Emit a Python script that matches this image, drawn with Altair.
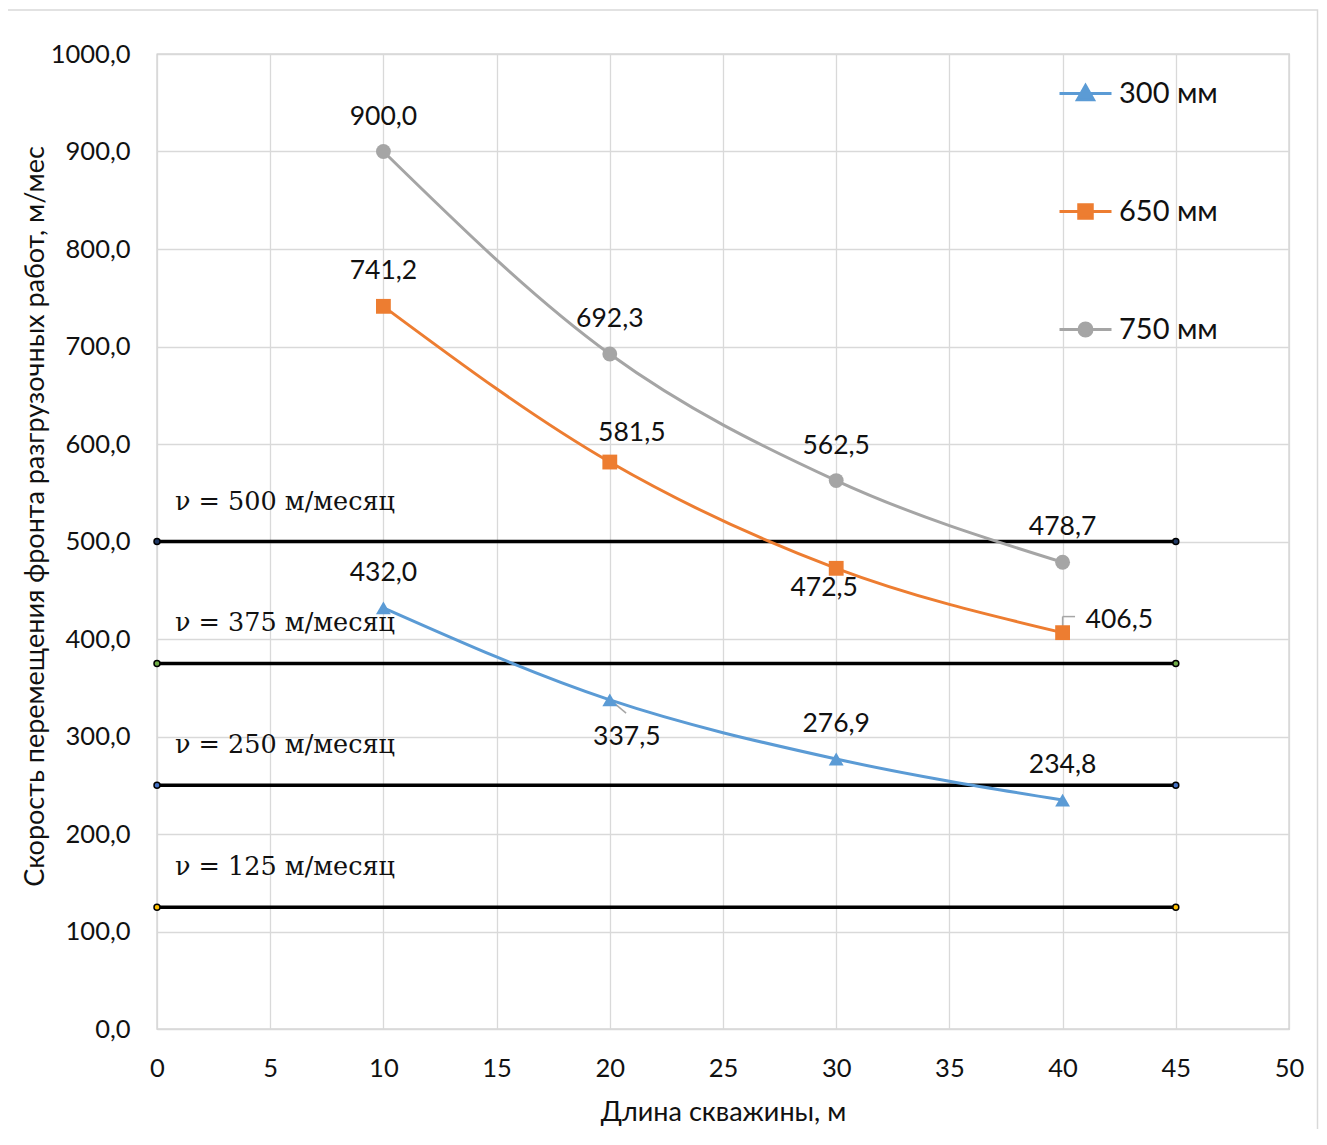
import altair as alt
import pandas as pd

# ---------------- data ----------------
x_vals = [10, 20, 30, 40]
series_names = ["300 мм", "650 мм", "750 мм"]
v300 = [432.0, 337.5, 276.9, 234.8]
v650 = [741.2, 581.5, 472.5, 406.5]
v750 = [900.0, 692.3, 562.5, 478.7]
series_colors = ["#5B9BD5", "#ED7D31", "#A5A5A5"]
series_shapes = ["triangle-up", "square", "circle"]

ref_speeds = [500, 375, 250, 125]
ref_x_start = 0
ref_x_end = 45
ref_dot_colors = ["#203864", "#70AD47", "#4472C4", "#FFC000"]

x_ticks = list(range(0, 51, 5))
y_ticks = list(range(0, 1001, 100))

# ---------------- frames ----------------
rows = []
for name, vals in zip(series_names, [v300, v650, v750]):
    for x, v in zip(x_vals, vals):
        rows.append({"x": x, "y": v, "series": name,
                     "label": f"{v:.1f}".replace(".", ",")})
df = pd.DataFrame(rows)

ref_df = pd.DataFrame({
    "speed": ref_speeds,
    "x0": [ref_x_start] * len(ref_speeds),
    "x1": [ref_x_end] * len(ref_speeds),
    "text": [f"ν = {s} м/месяц" for s in ref_speeds],
})
ref_pts = pd.DataFrame(
    [{"speed": s, "x": xx} for s in ref_speeds for xx in (ref_x_start, ref_x_end)]
)

FONT = "Lato"
TXT = "#111111"

x_scale = alt.Scale(domain=[0, 50], nice=False)
y_scale = alt.Scale(domain=[0, 1000], nice=False)

x_axis = alt.Axis(values=x_ticks, title="Длина скважины, м", titleFontSize=27,
                  titleFontWeight="normal", titleColor=TXT, titleFont=FONT,
                  labelFontSize=25.5, labelColor=TXT, labelFont=FONT, labelFlush=False,
                  ticks=False, tickSize=0, domain=False, labelPadding=27,
                  gridColor="#D9D9D9", gridWidth=1.3,
                  titleY=83, titleBaseline="middle")
y_axis = alt.Axis(values=y_ticks,
                  labelExpr="replace(format(datum.value, '.1f'), '.', ',')",
                  title="Скорость перемещения фронта разгрузочных работ, м/мес",
                  titleFontSize=27, titleFontWeight="normal", titleColor=TXT,
                  titleFont=FONT, labelFontSize=25.5, labelColor=TXT, labelFont=FONT,
                  labelFlush=False,
                  ticks=False, tickSize=0, domain=False, labelPadding=27,
                  gridColor="#D9D9D9", gridWidth=1.3,
                  titleX=-122, titleY=462, titleAngle=270,
                  titleAlign="center", titleBaseline="middle")

X = alt.X("x:Q", scale=x_scale, axis=x_axis)
Y = alt.Y("y:Q", scale=y_scale, axis=y_axis)

# legend symbols: a line segment with the marker in the middle
tri = "M-1,0H1M0,-0.31L0.31,0.24L-0.31,0.24Z"
sq = "M-1,0H1M-0.26,-0.26H0.26V0.26H-0.26Z"
circ = "M-1,0H1M0.25,0A0.25,0.25 0 1,1 -0.25,0A0.25,0.25 0 1,1 0.25,0Z"
legend_paths = [tri, sq, circ]

color_scale = alt.Scale(domain=series_names, range=series_colors)

border = alt.Chart(pd.DataFrame({"a": [0]})).mark_rect(
    fill="transparent", stroke="#D9D9D9", strokeWidth=1.5
).encode(x=alt.value(-150), x2=alt.value(1160.5), y=alt.value(-44), y2=alt.value(1110))

lines = alt.Chart(df).mark_line(interpolate="monotone", strokeWidth=3).encode(
    x=X, y=Y, color=alt.Color("series:N", scale=color_scale, legend=None)
)
points = alt.Chart(df).mark_point(filled=True, size=220, opacity=1).encode(
    x="x:Q", y="y:Q",
    color=alt.Color("series:N", scale=color_scale, legend=None),
    shape=alt.Shape("series:N", scale=alt.Scale(domain=series_names, range=series_shapes),
                    legend=None),
)

# one legend per series (line + marker symbol)
legend_layers = []
for i, (name, col, path) in enumerate(zip(series_names, series_colors, legend_paths)):
    lg = alt.Legend(
        title=None, orient="none", legendX=901, legendY=12 + 118 * i, padding=0,
        symbolType=path, symbolSize=2704, symbolStrokeWidth=3, symbolOpacity=1,
        labelFontSize=29, labelFont=FONT, labelColor=TXT, labelOffset=6,
    )
    legend_layers.append(
        alt.Chart(df).transform_filter(f"datum.series == '{name}'").mark_point(
            filled=True, opacity=0, size=1, stroke=col, strokeWidth=3
        ).encode(
            x="x:Q", y="y:Q",
            color=alt.Color("series:N", scale=alt.Scale(domain=[name], range=[col]),
                            legend=lg),
        )
    )

# leader lines of the two displaced data labels
leader_a = alt.Chart(df).transform_filter(
    "datum.series=='300 мм' && datum.x==20"
).transform_calculate(
    xa="datum.x + 0.1", ya="datum.y - 1.5", xb="datum.x + 0.72", yb="datum.y - 13.5"
).mark_rule(color="#A6A6A6", strokeWidth=1.5).encode(
    x="xa:Q", y="ya:Q", x2="xb:Q", y2="yb:Q")
leader_b = alt.layer(
    alt.Chart(df).transform_filter("datum.series=='650 мм' && datum.x==40")
    .transform_calculate(ya="datum.y + 6.5", yb="datum.y + 16.5")
    .mark_rule(color="#A6A6A6", strokeWidth=1.5)
    .encode(x="x:Q", y="ya:Q", y2="yb:Q"),
    alt.Chart(df).transform_filter("datum.series=='650 мм' && datum.x==40")
    .transform_calculate(yb="datum.y + 16.5", xb="datum.x + 0.55")
    .mark_rule(color="#A6A6A6", strokeWidth=1.5)
    .encode(x="x:Q", x2="xb:Q", y="yb:Q"),
)

ref_rules = alt.Chart(ref_df).mark_rule(color="black", strokeWidth=3.5).encode(
    x="x0:Q", x2="x1:Q", y=alt.Y("speed:Q")
)
ref_dots = alt.Chart(ref_pts).mark_point(filled=True, size=36, stroke="black",
                                         strokeWidth=1.5, opacity=1).encode(
    x="x:Q", y="speed:Q",
    color=alt.Color("speed:N", scale=alt.Scale(domain=ref_speeds, range=ref_dot_colors),
                    legend=None),
)
ref_text = alt.Chart(ref_df).mark_text(
    align="left", baseline="middle", dx=18, dy=-40, font="DejaVu Serif",
    fontSize=25.5, color=TXT
).encode(x="x0:Q", y="speed:Q", text="text:N")


def label_layer(filt, dx=0, dy=-35, align="center"):
    return alt.Chart(df).transform_filter(filt).mark_text(
        align=align, baseline="middle", dx=dx, dy=dy, font=FONT, fontSize=26.5,
        color=TXT
    ).encode(x="x:Q", y="y:Q", text="label:N")


special = ("(datum.series=='650 мм' && datum.x==20) || (datum.series=='300 мм' && datum.x==20)"
           " || (datum.series=='650 мм' && datum.x==30) || (datum.series=='650 мм' && datum.x==40)")
labels = [
    label_layer(f"!({special})"),
    label_layer("datum.series=='650 мм' && datum.x==20", dx=22, dy=-29),
    label_layer("datum.series=='300 мм' && datum.x==20", dx=17, dy=37),
    label_layer("datum.series=='650 мм' && datum.x==30", dx=-12, dy=20),
    label_layer("datum.series=='650 мм' && datum.x==40", dx=23, dy=-13, align="left"),
]

chart = alt.layer(
    border, ref_rules, ref_dots, ref_text, lines, leader_a, leader_b, points,
    *legend_layers, *labels
).resolve_scale(
    color="independent", shape="independent"
).properties(
    width=1132, height=975,
    autosize=alt.AutoSizeParams(type="none"),
    padding={"left": 149, "top": 46, "right": 30, "bottom": 100},
).configure_view(stroke="#BFBFBF", strokeWidth=1.3)

chart.save("out.html", embed_options={"renderer": "svg", "actions": False})
